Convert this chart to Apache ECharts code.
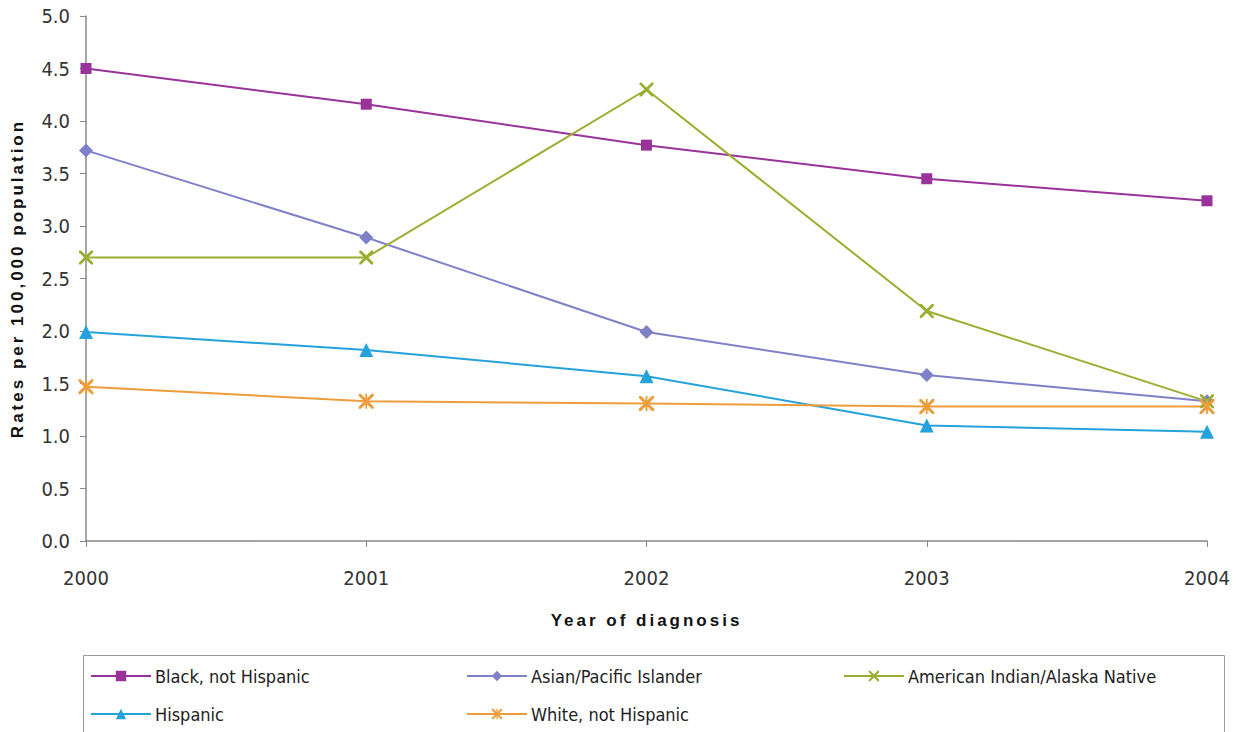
<!DOCTYPE html>
<html><head><meta charset="utf-8">
<script src="https://cdn.jsdelivr.net/npm/echarts@6/dist/echarts.min.js"></script>
<style>html,body{margin:0;padding:0;background:#fff}#c{width:1240px;height:732px}</style>
</head><body><div id="c"></div>
<script>
const years = ['2000','2001','2002','2003','2004'];
const black = [4.50, 4.16, 3.77, 3.45, 3.24];
const asian = [3.72, 2.89, 1.99, 1.58, 1.33];
const aian = [2.70, 2.70, 4.30, 2.19, 1.33];
const hispanic = [1.99, 1.82, 1.57, 1.10, 1.04];
const white = [1.47, 1.33, 1.31, 1.28, 1.28];
const yTicks = [0, 0.5, 1.0, 1.5, 2.0, 2.5, 3.0, 3.5, 4.0, 4.5, 5.0];

const X_PATH = 'path://M0,0 L1.4,0 L5,3.6 L8.6,0 L10,0 L10,1.4 L6.4,5 L10,8.6 L10,10 L8.6,10 L5,6.4 L1.4,10 L0,10 L0,8.6 L3.6,5 L0,1.4 Z';
const STAR_PATH = 'path://M0,0 L1.4,0 L5,3.6 L8.6,0 L10,0 L10,1.4 L6.4,5 L10,8.6 L10,10 L8.6,10 L5,6.4 L1.4,10 L0,10 L0,8.6 L3.6,5 L0,1.4 Z M4.4,0 L5.6,0 L5.6,10 L4.4,10 Z';

const narrow = '"DejaVu Sans Condensed", "Liberation Sans Narrow", Arial, sans-serif';
const font = '"Liberation Sans", Arial, sans-serif';
const defs = [
  {name:'Black, not Hispanic', data:black, color:'#993399', symbol:'rect', size:11},
  {name:'Asian/Pacific Islander', data:asian, color:'#8080c8', symbol:'diamond', size:14},
  {name:'American Indian/Alaska Native', data:aian, color:'#9aae30', symbol:X_PATH, size:14},
  {name:'Hispanic', data:hispanic, color:'#25a2dc', symbol:'triangle', size:14},
  {name:'White, not Hispanic', data:white, color:'#ee9d3c', symbol:STAR_PATH, size:15}
];
const series = defs.map(d => ({
  name: d.name, type: 'line', data: d.data, symbol: d.symbol, symbolSize: d.size,
  lineStyle: {color: d.color, width: 2}, itemStyle: {color: d.color},
  emphasis: {disabled: true}, animation: false
}));
const legendPos = [
  {left:85, top:662}, {left:461, top:662}, {left:838, top:662},
  {left:85, top:700}, {left:461, top:700}
];
const legends = defs.map((d,i) => ({
  data: [d.name], left: legendPos[i].left, top: legendPos[i].top, orient:'horizontal',
  itemWidth: 60, itemHeight: 13, itemGap: 4, selectedMode: false,
  textStyle: {fontFamily: narrow, fontSize: 18, color: '#222', padding:[0,0,0,-1]}
}));

const chart = echarts.init(document.getElementById('c'), null, {renderer: 'svg'});
chart.setOption({
  backgroundColor: '#fff',
  animation: false,
  grid: {left: 86, right: 33, top: 16, bottom: 191, containLabel: false, outerBoundsMode: 'none'},
  xAxis: {
    type: 'category', data: years, boundaryGap: false,
    axisLine: {lineStyle: {color: '#888', width: 1.5}},
    axisTick: {show: true, length: 6, alignWithLabel: true, lineStyle: {color: '#888'}},
    axisLabel: {fontFamily: narrow, fontSize: 20, color: '#333', margin: 27},
    name: 'Year of diagnosis', nameLocation: 'middle', nameGap: 71,
    nameTextStyle: {fontFamily: font, fontSize: 17, fontWeight: 'bold', color: '#111'}
  },
  yAxis: {
    type: 'value', min: 0, max: 5, interval: 0.5,
    axisLine: {show: true, lineStyle: {color: '#888', width: 1.5}},
    axisTick: {show: true, length: 6, lineStyle: {color: '#888'}},
    splitLine: {show: false},
    axisLabel: {fontFamily: narrow, fontSize: 20, color: '#333', margin: 16,
      formatter: v => v.toFixed(1)},
    name: 'Rates per 100,000 population', nameLocation: 'middle', nameGap: 60, nameRotate: 90,
    nameTextStyle: {fontFamily: font, fontSize: 17, fontWeight: 'bold', color: '#111'}
  },
  legend: legends,
  graphic: [{type:'rect', shape:{x:83.5, y:655.5, width:1141, height:90},
    style:{fill:'none', stroke:'#999', lineWidth:1}, silent:true, z:-1}],
  series: series
});
// widen the letter spacing of the two axis titles, as in the reference
document.querySelectorAll('#c svg text').forEach(t => {
  const s = t.textContent;
  if (s === 'Year of diagnosis' || s === 'Rates per 100,000 population') {
    t.setAttribute('letter-spacing', '3px');
  }
});
</script></body></html>
